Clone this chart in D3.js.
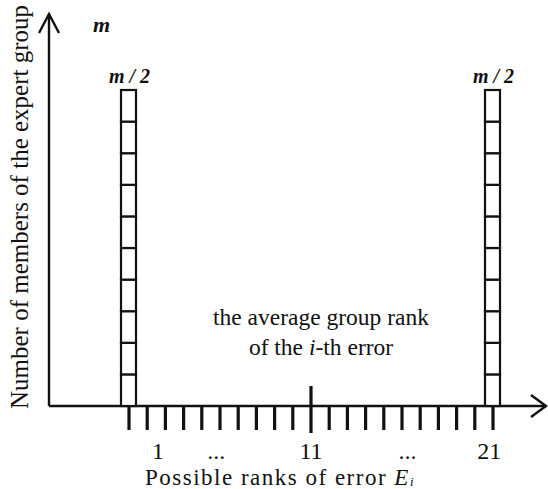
<!DOCTYPE html>
<html>
<head>
    <meta charset="utf-8">
    <title>Ranks of error</title>
    <style>
        body { margin: 0; background: #fff; }
        text { font-family: "Liberation Serif", "Times New Roman", serif; fill: #111; }
        .bar_cell { fill: #fff; stroke: #111; stroke-width: 2.2; }
    </style>
</head>
<body>
    <svg width="548" height="489"></svg>
    <script src="https://cdnjs.cloudflare.com/ajax/libs/d3/7.8.5/d3.min.js"></script>
    <script>
        // possible ranks of the error (1 .. 21)
        let ranks = d3.range(1, 22);
        // ranks where the experts put the error, and how many unit cells (m / 2 each)
        let barRanks = [1, 21];
        let barCells = [10, 10];
        let barLabels = ["m / 2", "m / 2"];
        // labels under the axis
        let rankLabels = ["1", "...", "11", "...", "21"];
        let rankLabelAt = [2.6, 5.8, 11, 16.3, 20.8];
        let averageRank = 11;

        let svg = d3.select("svg");
        let origin = { x: 49, y: 406 };

        // scales
        let xScale = d3.scaleLinear().domain([1, 21]).range([129, 493]);
        let yScale = d3.scaleLinear().domain([0, 10]).range([origin.y, 90]);
        let barWidth = 15;

        let ink = "#111";

        // axes
        svg.append("line")
            .attr("x1", origin.x).attr("y1", origin.y)
            .attr("x2", origin.x).attr("y2", 14)
            .attr("stroke", ink).attr("stroke-width", 2.4);
        svg.append("path")
            .attr("d", "M" + (origin.x - 10) + ",33 L" + origin.x + ",14 L" + (origin.x + 10) + ",33")
            .attr("fill", "none").attr("stroke", ink).attr("stroke-width", 2.4);
        svg.append("line")
            .attr("x1", origin.x).attr("y1", origin.y)
            .attr("x2", 546).attr("y2", origin.y)
            .attr("stroke", ink).attr("stroke-width", 2.4);
        svg.append("path")
            .attr("d", "M531," + (origin.y - 11) + " L546," + origin.y + " L531," + (origin.y + 11))
            .attr("fill", "none").attr("stroke", ink).attr("stroke-width", 2.4);

        // ticks under the axis
        svg.selectAll(".tick")
            .data(ranks)
            .enter().append("line")
            .attr("class", "tick")
            .attr("x1", (d) => xScale(d)).attr("x2", (d) => xScale(d))
            .attr("y1", (d) => d === averageRank ? 386 : origin.y)
            .attr("y2", (d) => d === averageRank ? 433 : 430)
            .attr("stroke", ink).attr("stroke-width", 3.2);

        // bars made of unit cells
        barRanks.forEach((r, i) => {
            let cells = d3.range(barCells[i]);
            svg.selectAll(".cell" + i)
                .data(cells)
                .enter().append("rect")
                .attr("class", "bar_cell")
                .attr("x", xScale(r) - barWidth / 2 - 0.5)
                .attr("y", (d) => yScale(d + 1))
                .attr("width", barWidth)
                .attr("height", (d) => yScale(d) - yScale(d + 1));
            svg.append("text")
                .attr("x", xScale(r) + 0.5)
                .attr("y", yScale(barCells[i]) - 7)
                .attr("text-anchor", "middle")
                .style("font-size", "20px")
                .style("font-weight", "bold")
                .style("font-style", "italic")
                .text(barLabels[i]);
        });

        // m at the top of the y axis
        svg.append("text")
            .attr("x", 93).attr("y", 32)
            .style("font-size", "22px")
            .style("font-weight", "bold")
            .style("font-style", "italic")
            .text("m");

        // tick labels
        svg.selectAll(".rank_label")
            .data(rankLabels)
            .enter().append("text")
            .attr("class", "rank_label")
            .attr("x", (d, i) => xScale(rankLabelAt[i]))
            .attr("y", 459)
            .attr("text-anchor", "middle")
            .style("font-size", "24px")
            .text((d) => d);

        // note about the average rank
        let note = svg.append("text")
            .attr("x", xScale(averageRank) + 10)
            .attr("text-anchor", "middle")
            .style("font-size", "23.5px");
        note.append("tspan").attr("x", xScale(averageRank) + 10).attr("y", 325).text("the average group rank");
        let line2 = note.append("tspan").attr("x", xScale(averageRank) + 10).attr("y", 355);
        line2.append("tspan").text("of the ");
        line2.append("tspan").style("font-style", "italic").text("i");
        line2.append("tspan").text("-th error");

        // axis titles
        let xTitle = svg.append("text")
            .attr("x", 280).attr("y", 485)
            .attr("text-anchor", "middle")
            .style("font-size", "23px")
            .style("letter-spacing", "1.5px");
        xTitle.append("tspan").text("Possible ranks of error ");
        xTitle.append("tspan").style("font-style", "italic").text("E");
        xTitle.append("tspan").style("font-style", "italic").style("font-size", "13px").attr("dy", 1).text("i");

        svg.append("text")
            .attr("transform", "translate(28,207) rotate(-90)")
            .attr("text-anchor", "middle")
            .style("font-size", "25px")
            .text("Number of members of the expert group");
    </script>
</body>
</html>
